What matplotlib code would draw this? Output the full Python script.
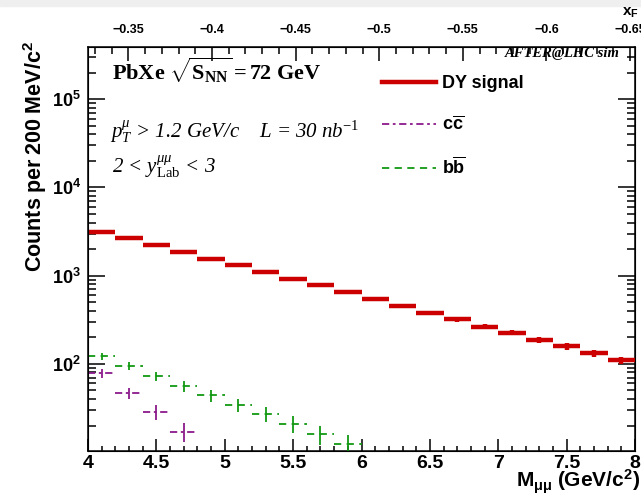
import numpy as np
import matplotlib
matplotlib.use("Agg")
import matplotlib.pyplot as plt
from matplotlib.lines import Line2D
from matplotlib.patches import Rectangle
from matplotlib.ticker import MultipleLocator, LogLocator, FuncFormatter, NullFormatter

#==== Fonts: sans bold for axes, Times-like for the annotations
plt.rcParams['font.family'] = 'Liberation Sans'
plt.rcParams['font.weight'] = 'bold'
plt.rcParams['mathtext.fontset'] = 'custom'
plt.rcParams['mathtext.rm'] = 'Liberation Serif:weight=normal'
plt.rcParams['mathtext.it'] = 'Liberation Serif:italic:weight=normal'
plt.rcParams['mathtext.bf'] = 'Liberation Serif:bold'
plt.rcParams['mathtext.sf'] = 'Liberation Sans:bold'

#==== Dimuon mass spectrum, 200 MeV bins
mass = [4.1, 4.3, 4.5, 4.7, 4.9, 5.1, 5.3, 5.5, 5.7, 5.9,
        6.1, 6.3, 6.5, 6.7, 6.9, 7.1, 7.3, 7.5, 7.7, 7.9]
dy_counts = [3150, 2670, 2230, 1870, 1560, 1330, 1110, 920, 776, 647,
             545, 457, 381, 320, 264, 226, 187, 158, 132, 110]
cc_mass = [4.1, 4.3, 4.5, 4.7]
cc_counts = [78, 47, 28.5, 17]
bb_mass = [4.1, 4.3, 4.5, 4.7, 4.9, 5.1, 5.3, 5.5, 5.7, 5.9]
bb_counts = [123, 95, 73, 56, 44, 34, 27, 21, 16, 12.3]
half_bin = 0.1

xf_ticks = [-0.35, -0.4, -0.45, -0.5, -0.55, -0.6, -0.65]

red = '#cc0000'
purple = '#8b1a8b'
green = '#119911'

#==== Figure
fig = plt.figure(figsize=(6.41, 4.95), dpi=100)
fig.patches.append(Rectangle((0, 1 - 6/495.), 1, 6/495., transform=fig.transFigure,
                             color='#efefef', zorder=0))
ax = fig.add_axes([88/641., 44/495., 547/641., 404/495.])

# DY signal
ax.errorbar(mass, dy_counts, xerr=half_bin, yerr=np.sqrt(dy_counts), fmt='none',
            ecolor=red, elinewidth=3.2, capsize=0, zorder=4)

# open charm and beauty backgrounds, drawn with their line styles
eb = ax.errorbar(cc_mass, cc_counts, xerr=half_bin, yerr=np.sqrt(cc_counts), fmt='none',
                 ecolor=purple, elinewidth=1.3, capsize=0, zorder=3)
eb[2][0].set_linestyle((0, (4, 2, 1.5, 2)))
eb = ax.errorbar(bb_mass, bb_counts, xerr=half_bin, yerr=np.sqrt(bb_counts), fmt='none',
                 ecolor=green, elinewidth=1.3, capsize=0, zorder=3)
eb[2][0].set_linestyle((0, (4, 3)))

ax.set_xlim(4, 8)
ax.set_yscale('log')
ax.set_ylim(10.3, 3.9e5)

# bottom / side axes
ax.xaxis.set_major_locator(MultipleLocator(0.5))
ax.xaxis.set_minor_locator(MultipleLocator(0.1))
ax.xaxis.set_major_formatter(FuncFormatter(lambda v, p: '%g' % v))
ax.yaxis.set_major_locator(LogLocator(base=10, numticks=10))
ax.yaxis.set_minor_locator(LogLocator(base=10, subs=np.arange(2, 10), numticks=10))
ax.yaxis.set_major_formatter(FuncFormatter(lambda v, p: r'$\mathsf{10^{%d}}$' % round(np.log10(v))))
ax.yaxis.set_minor_formatter(NullFormatter())
ax.tick_params(axis='x', which='both', direction='in', top=False, bottom=True,
               labelsize=14, pad=3, width=1.1)
ax.tick_params(axis='x', which='major', length=8.5)
ax.tick_params(axis='x', which='minor', length=3.6)
ax.tick_params(axis='y', which='both', direction='in', left=True, right=True,
               labelsize=13, pad=5, width=1.1)
ax.tick_params(axis='y', which='major', length=12)
ax.tick_params(axis='y', which='minor', length=6)
for s in ax.spines.values():
    s.set_linewidth(1.1)

# Feynman-x scale on top
ax2 = ax.twiny()
ax2.set_xlim(-0.3258, -0.653)
ax2.xaxis.set_major_locator(matplotlib.ticker.FixedLocator(xf_ticks))
ax2.xaxis.set_minor_locator(MultipleLocator(0.01))
ax2.xaxis.set_major_formatter(FuncFormatter(lambda v, p: '\u2212%g' % abs(v)))
ax2.tick_params(axis='x', which='both', direction='in', labelsize=9, pad=8, width=1.1)
ax2.tick_params(axis='x', which='major', length=10)
ax2.tick_params(axis='x', which='minor', length=5)
fig.text(622/641., 1 - 13/495., r'$\mathsf{x_{F}}$', fontsize=11, ha='left', va='center')

# axis titles
ax.set_xlabel(r'$\mathsf{M_{\mu\mu}\ (GeV/c^{2})}$', fontsize=15, ha='right', va='top')
ax.xaxis.set_label_coords(1.009, -0.042)
fig.text(35/641., 1 - 272/495., r'$\mathsf{Counts\ per\ 200\ MeV/c^{2}}$', fontsize=15.5,
         rotation=90, ha='center', va='bottom')

# annotations
ax.text(0.9726, 0.9827, 'AFTER@LHC sim', transform=ax.transAxes, fontsize=10.5,
        family='Liberation Serif', style='italic', weight='bold', ha='right', va='center')
ax.text(0.0439, 0.943, r'$\mathbf{PbXe\ \sqrt{S_{NN}} = 72\ GeV}$', transform=ax.transAxes,
        fontsize=16, ha='left', va='center')
ax.text(0.0403, 0.79, r'p$_{T}^{\mu}$ > 1.2 GeV/c    L = 30 nb$^{-1}$',
        transform=ax.transAxes, fontsize=15, family='Liberation Serif', style='italic',
        weight='normal', ha='left', va='center')
ax.text(0.0439, 0.703, r'2 < y$^{\mu\mu}_{\mathrm{Lab}}$ < 3',
        transform=ax.transAxes, fontsize=15, family='Liberation Serif', style='italic',
        weight='normal', ha='left', va='center')

# legend
handles = [Line2D([], [], color=red, lw=3.2),
           Line2D([], [], color=purple, lw=1.3, ls=(0, (4, 2, 1.5, 2))),
           Line2D([], [], color=green, lw=1.3, ls=(0, (4, 3)))]
labels = ['DY signal', r'$\mathsf{c\overline{c}}$', r'$\mathsf{b\overline{b}}$']
ax.legend(handles, labels, loc='upper left', bbox_to_anchor=(0.5375, 0.93), frameon=False,
          fontsize=13, borderpad=0, borderaxespad=0, handlelength=3.0, handletextpad=0.3,
          labelspacing=1.28)

plt.savefig('out.png', dpi=100)
